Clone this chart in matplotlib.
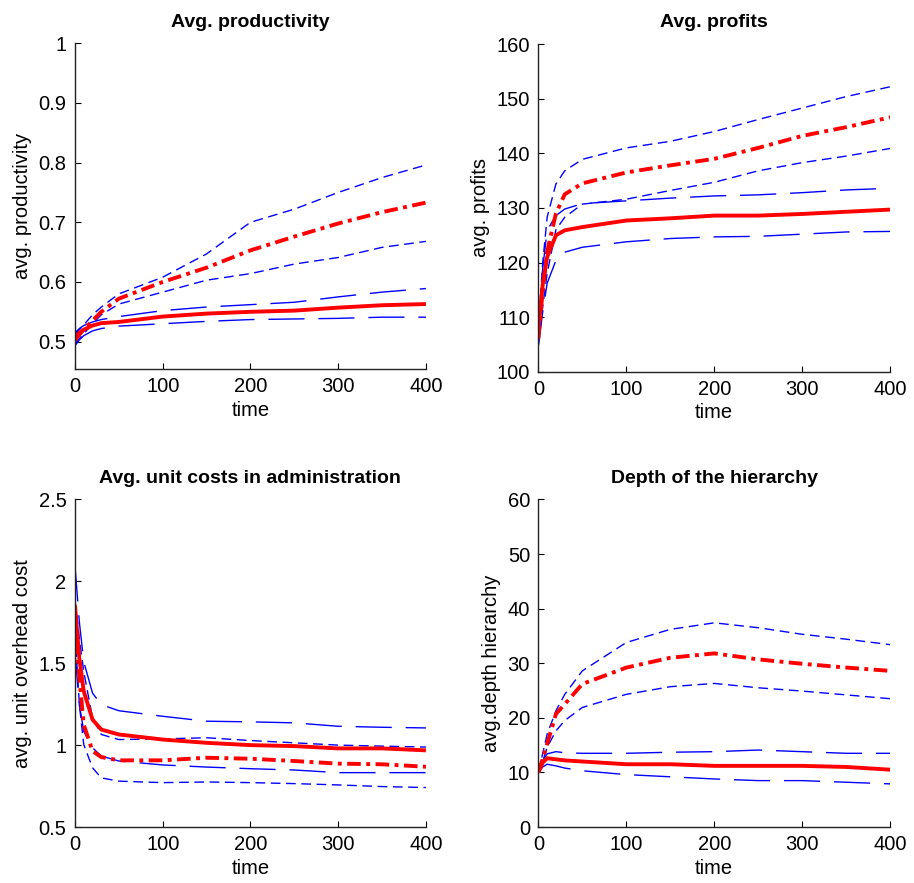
import matplotlib.pyplot as plt

plt.rcParams['font.family'] = ['Liberation Sans', 'DejaVu Sans']

t = [0, 5, 10, 20, 30, 50, 100, 150, 200, 250, 300, 350, 400]

# --- Avg. productivity ---
prod_mean_a = [0.505, 0.515, 0.52, 0.527, 0.531, 0.533, 0.542, 0.547, 0.55, 0.552, 0.557, 0.561, 0.563]
prod_hi_a = [0.515, 0.522, 0.527, 0.533, 0.537, 0.542, 0.552, 0.558, 0.562, 0.566, 0.575, 0.583, 0.589]
prod_lo_a = [0.493, 0.503, 0.51, 0.518, 0.522, 0.526, 0.530, 0.534, 0.537, 0.538, 0.539, 0.541, 0.541]
prod_mean_b = [0.502, 0.512, 0.52, 0.535, 0.55, 0.572, 0.60, 0.624, 0.653, 0.676, 0.698, 0.717, 0.733]
prod_hi_b = [0.512, 0.52, 0.528, 0.545, 0.558, 0.58, 0.608, 0.647, 0.70, 0.722, 0.75, 0.775, 0.796]
prod_lo_b = [0.497, 0.505, 0.513, 0.53, 0.545, 0.563, 0.583, 0.603, 0.614, 0.63, 0.641, 0.658, 0.668]

# --- Avg. profits ---
prof_mean_a = [107.7, 116, 121, 125, 125.9, 126.5, 127.7, 128.1, 128.6, 128.6, 128.9, 129.3, 129.7]
prof_hi_a = [108.5, 119, 125.9, 128.6, 129.8, 130.8, 131.3, 131.8, 132.2, 132.4, 132.8, 133.3, 133.6]
prof_lo_a = [104.7, 111, 116.2, 120.4, 121.9, 122.8, 123.8, 124.4, 124.7, 124.8, 125.2, 125.6, 125.7]
prof_mean_b = [106, 115, 122, 129, 132.5, 134.5, 136.5, 137.8, 139, 141, 143.2, 144.8, 146.6]
prof_hi_b = [108, 120, 128.3, 134.4, 136.8, 138.9, 141, 142.2, 144, 146.2, 148.3, 150.4, 152.2]
prof_lo_b = [105, 112, 118, 126, 128.3, 130.7, 131.6, 133.2, 134.7, 136.8, 138.3, 139.5, 140.9]

# --- Avg. unit costs in administration ---
cost_mean_a = [1.854, 1.53, 1.33, 1.156, 1.095, 1.065, 1.034, 1.014, 1.0, 0.994, 0.98, 0.98, 0.968]
cost_hi_a = [2.097, 1.753, 1.51, 1.318, 1.247, 1.21, 1.176, 1.146, 1.142, 1.136, 1.115, 1.109, 1.105]
cost_lo_a = [1.57, 1.247, 1.085, 0.984, 0.933, 0.903, 0.879, 0.866, 0.856, 0.848, 0.832, 0.832, 0.832]
cost_mean_b = [1.81, 1.41, 1.125, 0.964, 0.927, 0.907, 0.907, 0.923, 0.917, 0.903, 0.887, 0.883, 0.868]
cost_hi_b = [1.89, 1.65, 1.45, 1.166, 1.065, 1.034, 1.038, 1.045, 1.028, 1.014, 1.0, 0.994, 0.988]
cost_lo_b = [1.69, 1.25, 1.004, 0.862, 0.80, 0.78, 0.771, 0.775, 0.771, 0.765, 0.757, 0.747, 0.741]

# --- Depth of the hierarchy ---
depth_mean_a = [10, 11.8, 12.6, 12.4, 12.2, 12.0, 11.5, 11.5, 11.2, 11.2, 11.2, 11.0, 10.5]
depth_hi_a = [10, 12.2, 13.4, 13.8, 13.6, 13.5, 13.5, 13.7, 13.8, 14.1, 13.8, 13.5, 13.5]
depth_lo_a = [10, 11.0, 11.5, 11.2, 10.8, 10.3, 9.6, 9.2, 8.8, 8.5, 8.5, 8.2, 7.9]
depth_mean_b = [10, 12.5, 15.2, 20.7, 22.5, 26.2, 29.2, 31.0, 31.8, 30.7, 29.9, 29.2, 28.6]
depth_hi_b = [10, 13.5, 17.0, 21.3, 24.3, 28.6, 33.8, 36.2, 37.4, 36.5, 35.3, 34.4, 33.4]
depth_lo_b = [10, 12.0, 14.6, 17.6, 19.5, 21.9, 24.3, 25.7, 26.3, 25.5, 24.9, 24.2, 23.5]

panels = [
    ('Avg. productivity', 'avg. productivity', (0.454, 1.0), [0.5, 0.6, 0.7, 0.8, 0.9, 1],
     ['0.5', '0.6', '0.7', '0.8', '0.9', '1'],
     (prod_mean_a, prod_hi_a, prod_lo_a, prod_mean_b, prod_hi_b, prod_lo_b)),
    ('Avg. profits', 'avg. profits', (100, 160), [100, 110, 120, 130, 140, 150, 160],
     ['100', '110', '120', '130', '140', '150', '160'],
     (prof_mean_a, prof_hi_a, prof_lo_a, prof_mean_b, prof_hi_b, prof_lo_b)),
    ('Avg. unit costs in administration', 'avg. unit overhead cost', (0.5, 2.5),
     [0.5, 1, 1.5, 2, 2.5], ['0.5', '1', '1.5', '2', '2.5'],
     (cost_mean_a, cost_hi_a, cost_lo_a, cost_mean_b, cost_hi_b, cost_lo_b)),
    ('Depth of the hierarchy', 'avg.depth hierarchy', (0, 60), [0, 10, 20, 30, 40, 50, 60],
     ['0', '10', '20', '30', '40', '50', '60'],
     (depth_mean_a, depth_hi_a, depth_lo_a, depth_mean_b, depth_hi_b, depth_lo_b)),
]

positions = [
    [0.082, 0.582, 0.384, 0.369],
    [0.589, 0.579, 0.385, 0.371],
    [0.082, 0.0634, 0.384, 0.371],
    [0.589, 0.0634, 0.385, 0.371],
]

fig = plt.figure(figsize=(9.14, 8.83), dpi=100)

for pos, (title, ylabel, ylim, yticks, ytl, series) in zip(positions, panels):
    ax = fig.add_axes(pos)
    mean_a, hi_a, lo_a, mean_b, hi_b, lo_b = series
    # bands first, then the means on top
    ax.plot(t, hi_a, color='blue', lw=1.0, dashes=(26, 10))
    ax.plot(t, lo_a, color='blue', lw=1.0, dashes=(26, 10))
    ax.plot(t, hi_b, color='blue', lw=1.0, dashes=(7, 4))
    ax.plot(t, lo_b, color='blue', lw=1.0, dashes=(7, 4))
    ax.plot(t, mean_a, color='red', lw=2.8, solid_capstyle='butt')
    ax.plot(t, mean_b, color='red', lw=2.8, dashes=(3.5, 1.4, 1, 1.4))

    ax.set_xlim(0, 400)
    ax.set_ylim(*ylim)
    ax.set_xticks([0, 100, 200, 300, 400])
    ax.set_yticks(yticks)
    ax.set_yticklabels(ytl)
    ax.tick_params(direction='in', length=4, width=0.8, labelsize=14.5, pad=6)
    ax.spines['top'].set_visible(False)
    ax.spines['right'].set_visible(False)
    for s in ('left', 'bottom'):
        ax.spines[s].set_linewidth(1.0)
        ax.spines[s].set_color('#222222')
    ax.set_title(title, fontsize=14, fontweight='bold', pad=12)
    ax.set_xlabel('time', fontsize=14.5, labelpad=3)
    ax.set_ylabel(ylabel, fontsize=14.5, labelpad=5)

plt.savefig('out.png', dpi=100)
